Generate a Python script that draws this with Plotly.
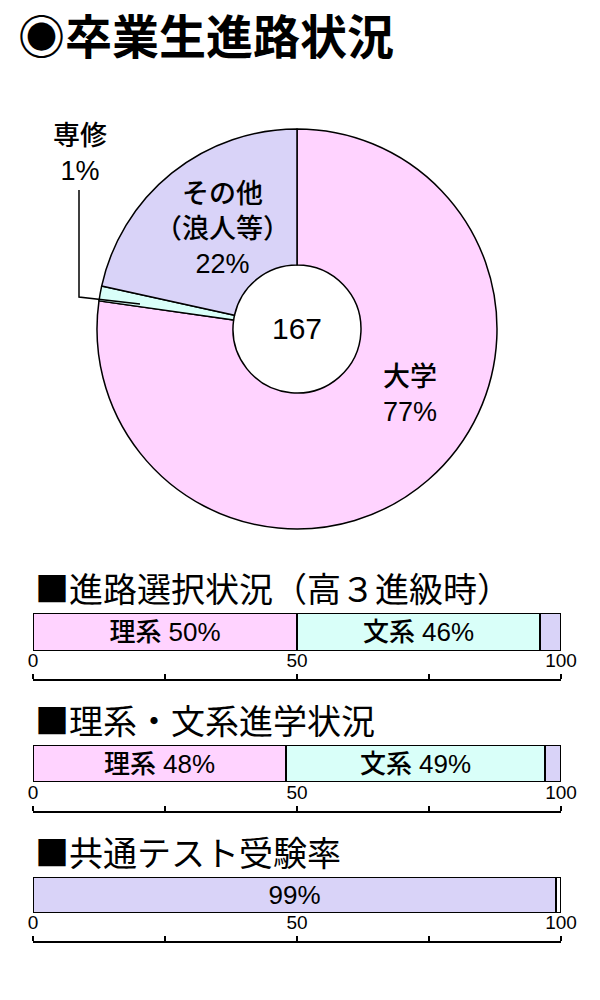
import plotly.graph_objects as go

# pie: 卒業生進路 (167 students)
pie_labels = ['大学', '専修', 'その他（浪人等）']
pie_values = [129, 2, 36]
pie_colors = ['#FFD3FF', '#D9FFF9', '#D9D3F8']
total = 167

# bars (percent)
bar_titles = ['■進路選択状況（高３進級時）', '■理系・文系進学状況', '■共通テスト受験率']
bar1_names = ['理系', '文系', 'その他']
bar1_values = [50, 46, 4]
bar2_names = ['理系', '文系', 'その他']
bar2_values = [48, 49, 3]
bar3_names = ['受験', '未受験']
bar3_values = [99, 1]
bar_texts = [['理系 50%', '文系 46%', ''], ['理系 48%', '文系 49%', ''], ['99%', '']]
bar_colors = [['#FFD3FF', '#D9FFF9', '#D9D3F8'],
              ['#FFD3FF', '#D9FFF9', '#D9D3F8'],
              ['#D9D3F8', '#FFFFFF']]
tick_vals = [0, 50, 100]
minor_vals = [25, 75]

JP = 'Liberation Sans, Noto Sans CJK JP'

fig = go.Figure()

fig.add_trace(go.Pie(
    labels=pie_labels, values=pie_values, sort=False, direction='clockwise',
    rotation=0, hole=0.32, textinfo='none', hoverinfo='label+percent',
    marker=dict(colors=pie_colors, line=dict(color='black', width=1.5)),
    domain=dict(x=[97/600, 497/600], y=[1-529/1000, 1-129/1000]),
    showlegend=False,
))

# bar rows: (y-domain, axis position)
rows = [([1-651/1000, 1-613/1000], 1-680/1000),
        ([1-782/1000, 1-745/1000], 1-812/1000),
        ([1-913/1000, 1-877/1000], 1-942/1000)]
all_vals = [bar1_values, bar2_values, bar3_values]
all_names = [bar1_names, bar2_names, bar3_names]

for i, (vals, names) in enumerate(zip(all_vals, all_names)):
    n = '' if i == 0 else str(i + 1)
    for v, nm, t, c in zip(vals, names, bar_texts[i], bar_colors[i]):
        fig.add_trace(go.Bar(
            x=[v], y=['a'], orientation='h', name=nm, text=[t],
            textposition='inside', insidetextanchor='middle', constraintext='none',
            textfont=dict(family=JP, size=26, color='black', weight=500),
            marker=dict(color=c, line=dict(color='black', width=2)),
            cliponaxis=False,
            xaxis='x' + n, yaxis='y' + n, showlegend=False,
        ))
    ydom, pos = rows[i]
    fig.layout['xaxis' + n] = dict(
        domain=[33/600, 561/600], range=[0, 100], anchor='free', position=pos,
        side='top', showline=True, linecolor='black', linewidth=1.8,
        ticks='outside', ticklen=5, tickwidth=1.8, tickcolor='black',
        tickvals=tick_vals, ticklabelstandoff=0, automargin=False,
        tickfont=dict(family='Liberation Sans', size=19, color='black'),
        minor=dict(tickvals=minor_vals, ticks='outside', ticklen=5,
                   tickwidth=1.8, tickcolor='black'),
        showgrid=False, zeroline=False, fixedrange=True,
    )
    fig.layout['yaxis' + n] = dict(
        domain=ydom, range=[-0.5, 0.5], visible=False, fixedrange=True,
        automargin=False,
    )

ann = []
ann.append(dict(text='<b>◉卒業生進路状況</b>', x=16/600, y=1-33/1000,
                xanchor='left', yanchor='middle',
                font=dict(family='Noto Sans CJK JP', size=47, color='black')))
for t, yc in zip(bar_titles, [587, 719, 851]):
    ann.append(dict(text=t, x=33/600, y=1-yc/1000, xanchor='left', yanchor='middle',
                    font=dict(family='Noto Sans CJK JP', size=34, color='black')))

pie_font = dict(family=JP, size=27, color='black', weight=500)
ann.append(dict(text='大学<br>77%', x=410/600, y=1-394/1000, font=pie_font))
ann.append(dict(text='その他<br>（浪人等）<br>22%', x=222/600, y=1-229/1000, font=pie_font))
ann.append(dict(text='専修<br>1%', x=80/600, y=1-153/1000, font=pie_font))
ann.append(dict(text=str(total), x=297/600, y=1-329/1000,
                font=dict(family='Liberation Sans', size=30, color='black')))
for a in ann:
    a.update(xref='paper', yref='paper', showarrow=False)
    a.setdefault('xanchor', 'center')
    a.setdefault('yanchor', 'middle')

fig.update_layout(
    width=600, height=1000, margin=dict(l=0, r=0, t=0, b=0, autoexpand=False),
    paper_bgcolor='white', plot_bgcolor='white',
    barmode='stack', bargap=0, annotations=ann,
    shapes=[dict(type='path', xref='paper', yref='paper',
                 path='M %f %f L %f %f L %f %f' % (79/600, 1-190/1000, 79/600, 1-297/1000,
                                                   140/600, 1-304/1000),
                 line=dict(color='black', width=1.5))],
)

fig.write_html('out.html', config={'displayModeBar': False},
               post_script="document.body.style.margin='0';")
